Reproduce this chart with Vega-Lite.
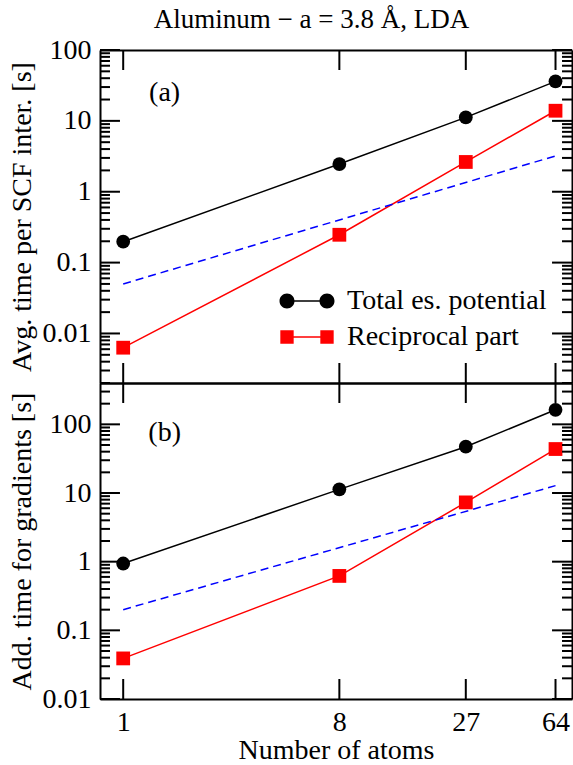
{
  "$schema": "https://vega.github.io/schema/vega-lite/v6.json",
  "padding": {"left": 8, "top": 6, "right": 0, "bottom": 0},
  "title": {"text": "Aluminum − a = 3.8 Å, LDA", "font": "Liberation Serif", "fontSize": 27, "fontWeight": "normal", "color": "black", "anchor": "middle", "offset": 2, "dx": 16},
  "bounds": "flush",
  "spacing": 0,
  "datasets": {
    "a": [
      {"N": 1, "t": 0.197, "s": "Total es. potential"},
      {"N": 8, "t": 2.46, "s": "Total es. potential"},
      {"N": 27, "t": 11.2, "s": "Total es. potential"},
      {"N": 64, "t": 36.1, "s": "Total es. potential"},
      {"N": 1, "t": 0.0063, "s": "Reciprocal part"},
      {"N": 8, "t": 0.247, "s": "Reciprocal part"},
      {"N": 27, "t": 2.63, "s": "Reciprocal part"},
      {"N": 64, "t": 13.9, "s": "Reciprocal part"}
    ],
    "a_ref": [{"N": 1, "t": 0.05}, {"N": 64, "t": 3.2}],
    "b": [
      {"N": 1, "t": 0.94, "s": "Total es. potential"},
      {"N": 8, "t": 11.3, "s": "Total es. potential"},
      {"N": 27, "t": 47.2, "s": "Total es. potential"},
      {"N": 64, "t": 163, "s": "Total es. potential"},
      {"N": 1, "t": 0.039, "s": "Reciprocal part"},
      {"N": 8, "t": 0.62, "s": "Reciprocal part"},
      {"N": 27, "t": 7.3, "s": "Reciprocal part"},
      {"N": 64, "t": 43.7, "s": "Reciprocal part"}
    ],
    "b_ref": [{"N": 1, "t": 0.2}, {"N": 64, "t": 12.8}],
    "ya": [{"v":0.002},{"v":0.003},{"v":0.004},{"v":0.005},{"v":0.006},{"v":0.007},{"v":0.008},{"v":0.009},{"v":0.01},{"v":0.02},{"v":0.03},{"v":0.04},{"v":0.05},{"v":0.06},{"v":0.07},{"v":0.08},{"v":0.09},{"v":0.1},{"v":0.2},{"v":0.3},{"v":0.4},{"v":0.5},{"v":0.6},{"v":0.7},{"v":0.8},{"v":0.9},{"v":1},{"v":2},{"v":3},{"v":4},{"v":5},{"v":6},{"v":7},{"v":8},{"v":9},{"v":10},{"v":20},{"v":30},{"v":40},{"v":50},{"v":60},{"v":70},{"v":80},{"v":90},{"v":100}],
    "yb": [{"v":0.01},{"v":0.02},{"v":0.03},{"v":0.04},{"v":0.05},{"v":0.06},{"v":0.07},{"v":0.08},{"v":0.09},{"v":0.1},{"v":0.2},{"v":0.3},{"v":0.4},{"v":0.5},{"v":0.6},{"v":0.7},{"v":0.8},{"v":0.9},{"v":1},{"v":2},{"v":3},{"v":4},{"v":5},{"v":6},{"v":7},{"v":8},{"v":9},{"v":10},{"v":20},{"v":30},{"v":40},{"v":50},{"v":60},{"v":70},{"v":80},{"v":90},{"v":100},{"v":200},{"v":300},{"v":400}],
    "xt": [{"v": 1}, {"v": 8}, {"v": 27}, {"v": 64}],
    "one": [{}]
  },
  "vconcat": [
    {
      "width": 472,
      "height": 333,
      "resolve": {"axis": {"x": "independent", "y": "independent"}, "scale": {"shape": "independent", "color": "independent"}, "legend": {"shape": "independent", "color": "independent"}},
      "layer": [
        {
          "data": {"name": "a"},
          "mark": {"type": "point", "filled": true, "opacity": 0, "size": 225},
          "encoding": {
            "x": {"field": "N", "type": "quantitative", "scale": {"type": "log", "domain": [0.8, 75], "nice": false},
                  "axis": {"orient": "bottom", "values": [1, 8, 27, 64], "ticks": false, "labels": false, "title": null}},
            "y": {"field": "t", "type": "quantitative", "scale": {"type": "log", "domain": [0.002, 100], "nice": false},
                  "axis": {"orient": "left", "title": "Avg. time per SCF inter. [s]", "titlePadding": 6,
                           "values": [0.01, 0.1, 1, 10, 100], "ticks": false,
                           "labelExpr": "format(datum.value, '~g')", "labelPadding": 9}},
            "shape": {"field": "s", "type": "nominal", "scale": {"domain": ["Total es. potential", "Reciprocal part"],
                      "range": ["M -1.667,0 C -1.667,0.5523 -2.1147,1 -2.667,1 C -3.2193,1 -3.667,0.5523 -3.667,0 C -3.667,-0.5523 -3.2193,-1 -2.667,-1 C -2.1147,-1 -1.667,-0.5523 -1.667,0 Z M 3.667,0 C 3.667,0.5523 3.2193,1 2.667,1 C 2.1147,1 1.667,0.5523 1.667,0 C 1.667,-0.5523 2.1147,-1 2.667,-1 C 3.2193,-1 3.667,-0.5523 3.667,0 Z M -2.667,-0.1 L 2.667,-0.1 L 2.667,0.1 L -2.667,0.1 Z",
                                "M -3.557,-0.89 L -1.777,-0.89 L -1.777,0.89 L -3.557,0.89 Z M 1.777,-0.89 L 3.557,-0.89 L 3.557,0.89 L 1.777,0.89 Z M -2.667,-0.1 L 2.667,-0.1 L 2.667,0.1 L -2.667,0.1 Z"]},
                      "legend": {"orient": "none", "legendX": 193, "legendY": 237, "title": null, "padding": 0,
                                 "labelFont": "Liberation Serif", "labelFontSize": 28, "labelColor": "black", "labelLimit": 0,
                                 "symbolSize": 225, "symbolStrokeWidth": 0, "symbolOpacity": 1, "labelOffset": 26, "rowPadding": 8}},
            "color": {"field": "s", "type": "nominal", "scale": {"domain": ["Total es. potential", "Reciprocal part"], "range": ["black", "red"]},
                      "legend": {"orient": "none", "legendX": 193, "legendY": 237, "title": null, "padding": 0,
                                 "labelFont": "Liberation Serif", "labelFontSize": 28, "labelColor": "black", "labelLimit": 0,
                                 "symbolSize": 225, "symbolStrokeWidth": 0, "symbolOpacity": 1, "labelOffset": 26, "rowPadding": 8}}
          }
        },
        {
          "data": {"name": "a"},
          "mark": {"type": "line", "strokeWidth": 1.5},
          "encoding": {
            "x": {"field": "N", "type": "quantitative", "scale": {"type": "log", "domain": [0.8, 75], "nice": false},
                  "axis": {"orient": "top", "values": [1, 8, 27, 64], "ticks": false, "labels": false, "title": null}},
            "y": {"field": "t", "type": "quantitative", "scale": {"type": "log", "domain": [0.002, 100], "nice": false},
                  "axis": {"orient": "right", "values": [0.01, 0.1, 1, 10, 100], "ticks": false, "labels": false, "title": null}},
            "color": {"field": "s", "type": "nominal", "scale": {"domain": ["Total es. potential", "Reciprocal part"], "range": ["black", "red"]}, "legend": null}
          }
        },
        {
          "data": {"name": "a"},
          "mark": {"type": "point", "filled": true, "opacity": 1, "size": 190},
          "encoding": {
            "x": {"field": "N", "type": "quantitative", "scale": {"type": "log", "domain": [0.8, 75], "nice": false}, "axis": null},
            "y": {"field": "t", "type": "quantitative", "scale": {"type": "log", "domain": [0.002, 100], "nice": false}, "axis": null},
            "shape": {"field": "s", "type": "nominal", "scale": {"domain": ["Total es. potential", "Reciprocal part"], "range": ["circle", "square"]}, "legend": null},
            "color": {"field": "s", "type": "nominal", "scale": {"domain": ["Total es. potential", "Reciprocal part"], "range": ["black", "red"]}, "legend": null}
          }
        },
        {
          "data": {"name": "a_ref"},
          "mark": {"type": "line", "color": "#0000ff", "strokeDash": [8, 5], "strokeWidth": 1.5},
          "encoding": {
            "x": {"field": "N", "type": "quantitative", "scale": {"type": "log", "domain": [0.8, 75], "nice": false}, "axis": null},
            "y": {"field": "t", "type": "quantitative", "scale": {"type": "log", "domain": [0.002, 100], "nice": false}, "axis": null}
          }
        },
        {
          "data": {"name": "ya"},
          "transform": [{"filter": "abs(log(datum.v)/LN10 - round(log(datum.v)/LN10)) < 0.001"}],
          "mark": {"type": "rule", "color": "black", "strokeWidth": 2},
          "encoding": {
            "y": {"field": "v", "type": "quantitative", "axis": null},
            "x": {"datum": 0.8, "type": "quantitative", "axis": null},
            "x2": {"datum": 0.9694}
          }
        },
        {
          "data": {"name": "ya"},
          "transform": [{"filter": "abs(log(datum.v)/LN10 - round(log(datum.v)/LN10)) >= 0.001"}],
          "mark": {"type": "rule", "color": "black", "strokeWidth": 2},
          "encoding": {
            "y": {"field": "v", "type": "quantitative", "axis": null},
            "x": {"datum": 0.8, "type": "quantitative", "axis": null},
            "x2": {"datum": 0.8806}
          }
        },
        {
          "data": {"name": "ya"},
          "transform": [{"filter": "abs(log(datum.v)/LN10 - round(log(datum.v)/LN10)) < 0.001"}],
          "mark": {"type": "rule", "color": "black", "strokeWidth": 2},
          "encoding": {
            "y": {"field": "v", "type": "quantitative", "axis": null},
            "x": {"datum": 75, "type": "quantitative", "axis": null},
            "x2": {"datum": 61.89}
          }
        },
        {
          "data": {"name": "ya"},
          "transform": [{"filter": "abs(log(datum.v)/LN10 - round(log(datum.v)/LN10)) >= 0.001"}],
          "mark": {"type": "rule", "color": "black", "strokeWidth": 2},
          "encoding": {
            "y": {"field": "v", "type": "quantitative", "axis": null},
            "x": {"datum": 75, "type": "quantitative", "axis": null},
            "x2": {"datum": 68.13}
          }
        },
        {
          "data": {"name": "xt"},
          "mark": {"type": "rule", "color": "black", "strokeWidth": 2},
          "encoding": {
            "x": {"field": "v", "type": "quantitative", "axis": null},
            "y": {"datum": 0.002, "type": "quantitative", "axis": null},
            "y2": {"datum": 0.003831}
          }
        },
        {
          "data": {"name": "xt"},
          "mark": {"type": "rule", "color": "black", "strokeWidth": 2},
          "encoding": {
            "x": {"field": "v", "type": "quantitative", "axis": null},
            "y": {"datum": 100, "type": "quantitative", "axis": null},
            "y2": {"datum": 52.2}
          }
        },
        {
          "data": {"name": "one"},
          "mark": {"type": "text", "font": "Liberation Serif", "fontSize": 28, "color": "black"},
          "encoding": {
            "x": {"datum": 1.49, "type": "quantitative", "axis": null},
            "y": {"datum": 24.9, "type": "quantitative", "axis": null},
            "text": {"value": "(a)"}
          }
        }
      ]
    },
    {
      "width": 472,
      "height": 316,
      "resolve": {"axis": {"x": "independent", "y": "independent"}},
      "layer": [
        {
          "data": {"name": "b"},
          "mark": {"type": "line", "strokeWidth": 1.5},
          "encoding": {
            "x": {"field": "N", "type": "quantitative", "scale": {"type": "log", "domain": [0.8, 75], "nice": false},
                  "axis": {"orient": "bottom", "values": [1, 8, 27, 64], "ticks": false, "labelPadding": 9, "labelExpr": "format(datum.value, '~g')",
                           "title": "Number of atoms", "titlePadding": 0}},
            "y": {"field": "t", "type": "quantitative", "scale": {"type": "log", "domain": [0.01, 400], "nice": false},
                  "axis": {"orient": "left", "title": "Add. time for gradients [s]", "titlePadding": 6,
                           "values": [0.01, 0.1, 1, 10, 100], "ticks": false,
                           "labelExpr": "format(datum.value, '~g')", "labelPadding": 9}},
            "color": {"field": "s", "type": "nominal", "scale": {"domain": ["Total es. potential", "Reciprocal part"], "range": ["black", "red"]}, "legend": null}
          }
        },
        {
          "data": {"name": "b"},
          "mark": {"type": "point", "filled": true, "opacity": 1, "size": 190},
          "encoding": {
            "x": {"field": "N", "type": "quantitative", "scale": {"type": "log", "domain": [0.8, 75], "nice": false},
                  "axis": {"orient": "top", "values": [1, 8, 27, 64], "ticks": false, "labels": false, "title": null}},
            "y": {"field": "t", "type": "quantitative", "scale": {"type": "log", "domain": [0.01, 400], "nice": false},
                  "axis": {"orient": "right", "values": [0.01, 0.1, 1, 10, 100], "ticks": false, "labels": false, "title": null}},
            "shape": {"field": "s", "type": "nominal", "scale": {"domain": ["Total es. potential", "Reciprocal part"], "range": ["circle", "square"]}, "legend": null},
            "color": {"field": "s", "type": "nominal", "scale": {"domain": ["Total es. potential", "Reciprocal part"], "range": ["black", "red"]}, "legend": null}
          }
        },
        {
          "data": {"name": "b_ref"},
          "mark": {"type": "line", "color": "#0000ff", "strokeDash": [8, 5], "strokeWidth": 1.5},
          "encoding": {
            "x": {"field": "N", "type": "quantitative", "scale": {"type": "log", "domain": [0.8, 75], "nice": false}, "axis": null},
            "y": {"field": "t", "type": "quantitative", "scale": {"type": "log", "domain": [0.01, 400], "nice": false}, "axis": null}
          }
        },
        {
          "data": {"name": "yb"},
          "transform": [{"filter": "abs(log(datum.v)/LN10 - round(log(datum.v)/LN10)) < 0.001"}],
          "mark": {"type": "rule", "color": "black", "strokeWidth": 2},
          "encoding": {
            "y": {"field": "v", "type": "quantitative", "axis": null},
            "x": {"datum": 0.8, "type": "quantitative", "axis": null},
            "x2": {"datum": 0.9694}
          }
        },
        {
          "data": {"name": "yb"},
          "transform": [{"filter": "abs(log(datum.v)/LN10 - round(log(datum.v)/LN10)) >= 0.001"}],
          "mark": {"type": "rule", "color": "black", "strokeWidth": 2},
          "encoding": {
            "y": {"field": "v", "type": "quantitative", "axis": null},
            "x": {"datum": 0.8, "type": "quantitative", "axis": null},
            "x2": {"datum": 0.8806}
          }
        },
        {
          "data": {"name": "yb"},
          "transform": [{"filter": "abs(log(datum.v)/LN10 - round(log(datum.v)/LN10)) < 0.001"}],
          "mark": {"type": "rule", "color": "black", "strokeWidth": 2},
          "encoding": {
            "y": {"field": "v", "type": "quantitative", "axis": null},
            "x": {"datum": 75, "type": "quantitative", "axis": null},
            "x2": {"datum": 61.89}
          }
        },
        {
          "data": {"name": "yb"},
          "transform": [{"filter": "abs(log(datum.v)/LN10 - round(log(datum.v)/LN10)) >= 0.001"}],
          "mark": {"type": "rule", "color": "black", "strokeWidth": 2},
          "encoding": {
            "y": {"field": "v", "type": "quantitative", "axis": null},
            "x": {"datum": 75, "type": "quantitative", "axis": null},
            "x2": {"datum": 68.13}
          }
        },
        {
          "data": {"name": "xt"},
          "mark": {"type": "rule", "color": "black", "strokeWidth": 2},
          "encoding": {
            "x": {"field": "v", "type": "quantitative", "axis": null},
            "y": {"datum": 0.01, "type": "quantitative", "axis": null},
            "y2": {"datum": 0.019545}
          }
        },
        {
          "data": {"name": "xt"},
          "mark": {"type": "rule", "color": "black", "strokeWidth": 2},
          "encoding": {
            "x": {"field": "v", "type": "quantitative", "axis": null},
            "y": {"datum": 400, "type": "quantitative", "axis": null},
            "y2": {"datum": 204.7}
          }
        },
        {
          "data": {"name": "one"},
          "mark": {"type": "text", "font": "Liberation Serif", "fontSize": 28, "color": "black"},
          "encoding": {
            "x": {"datum": 1.49, "type": "quantitative", "axis": null},
            "y": {"datum": 74.8, "type": "quantitative", "axis": null},
            "text": {"value": "(b)"}
          }
        }
      ]
    }
  ],
  "resolve": {"scale": {"y": "independent", "color": "independent", "shape": "independent"}, "legend": {"color": "independent", "shape": "independent"}},
  "config": {
    "font": "Liberation Serif",
    "view": {"stroke": null},
    "axis": {"domainColor": "black", "domainWidth": 2, "grid": false,
             "labelFont": "Liberation Serif", "labelFontSize": 28, "labelColor": "black",
             "titleFont": "Liberation Serif", "titleFontSize": 28, "titleFontWeight": "normal", "titleColor": "black",
             "labelFlush": false, "labelOverlap": false, "labelBound": false}
  }
}
